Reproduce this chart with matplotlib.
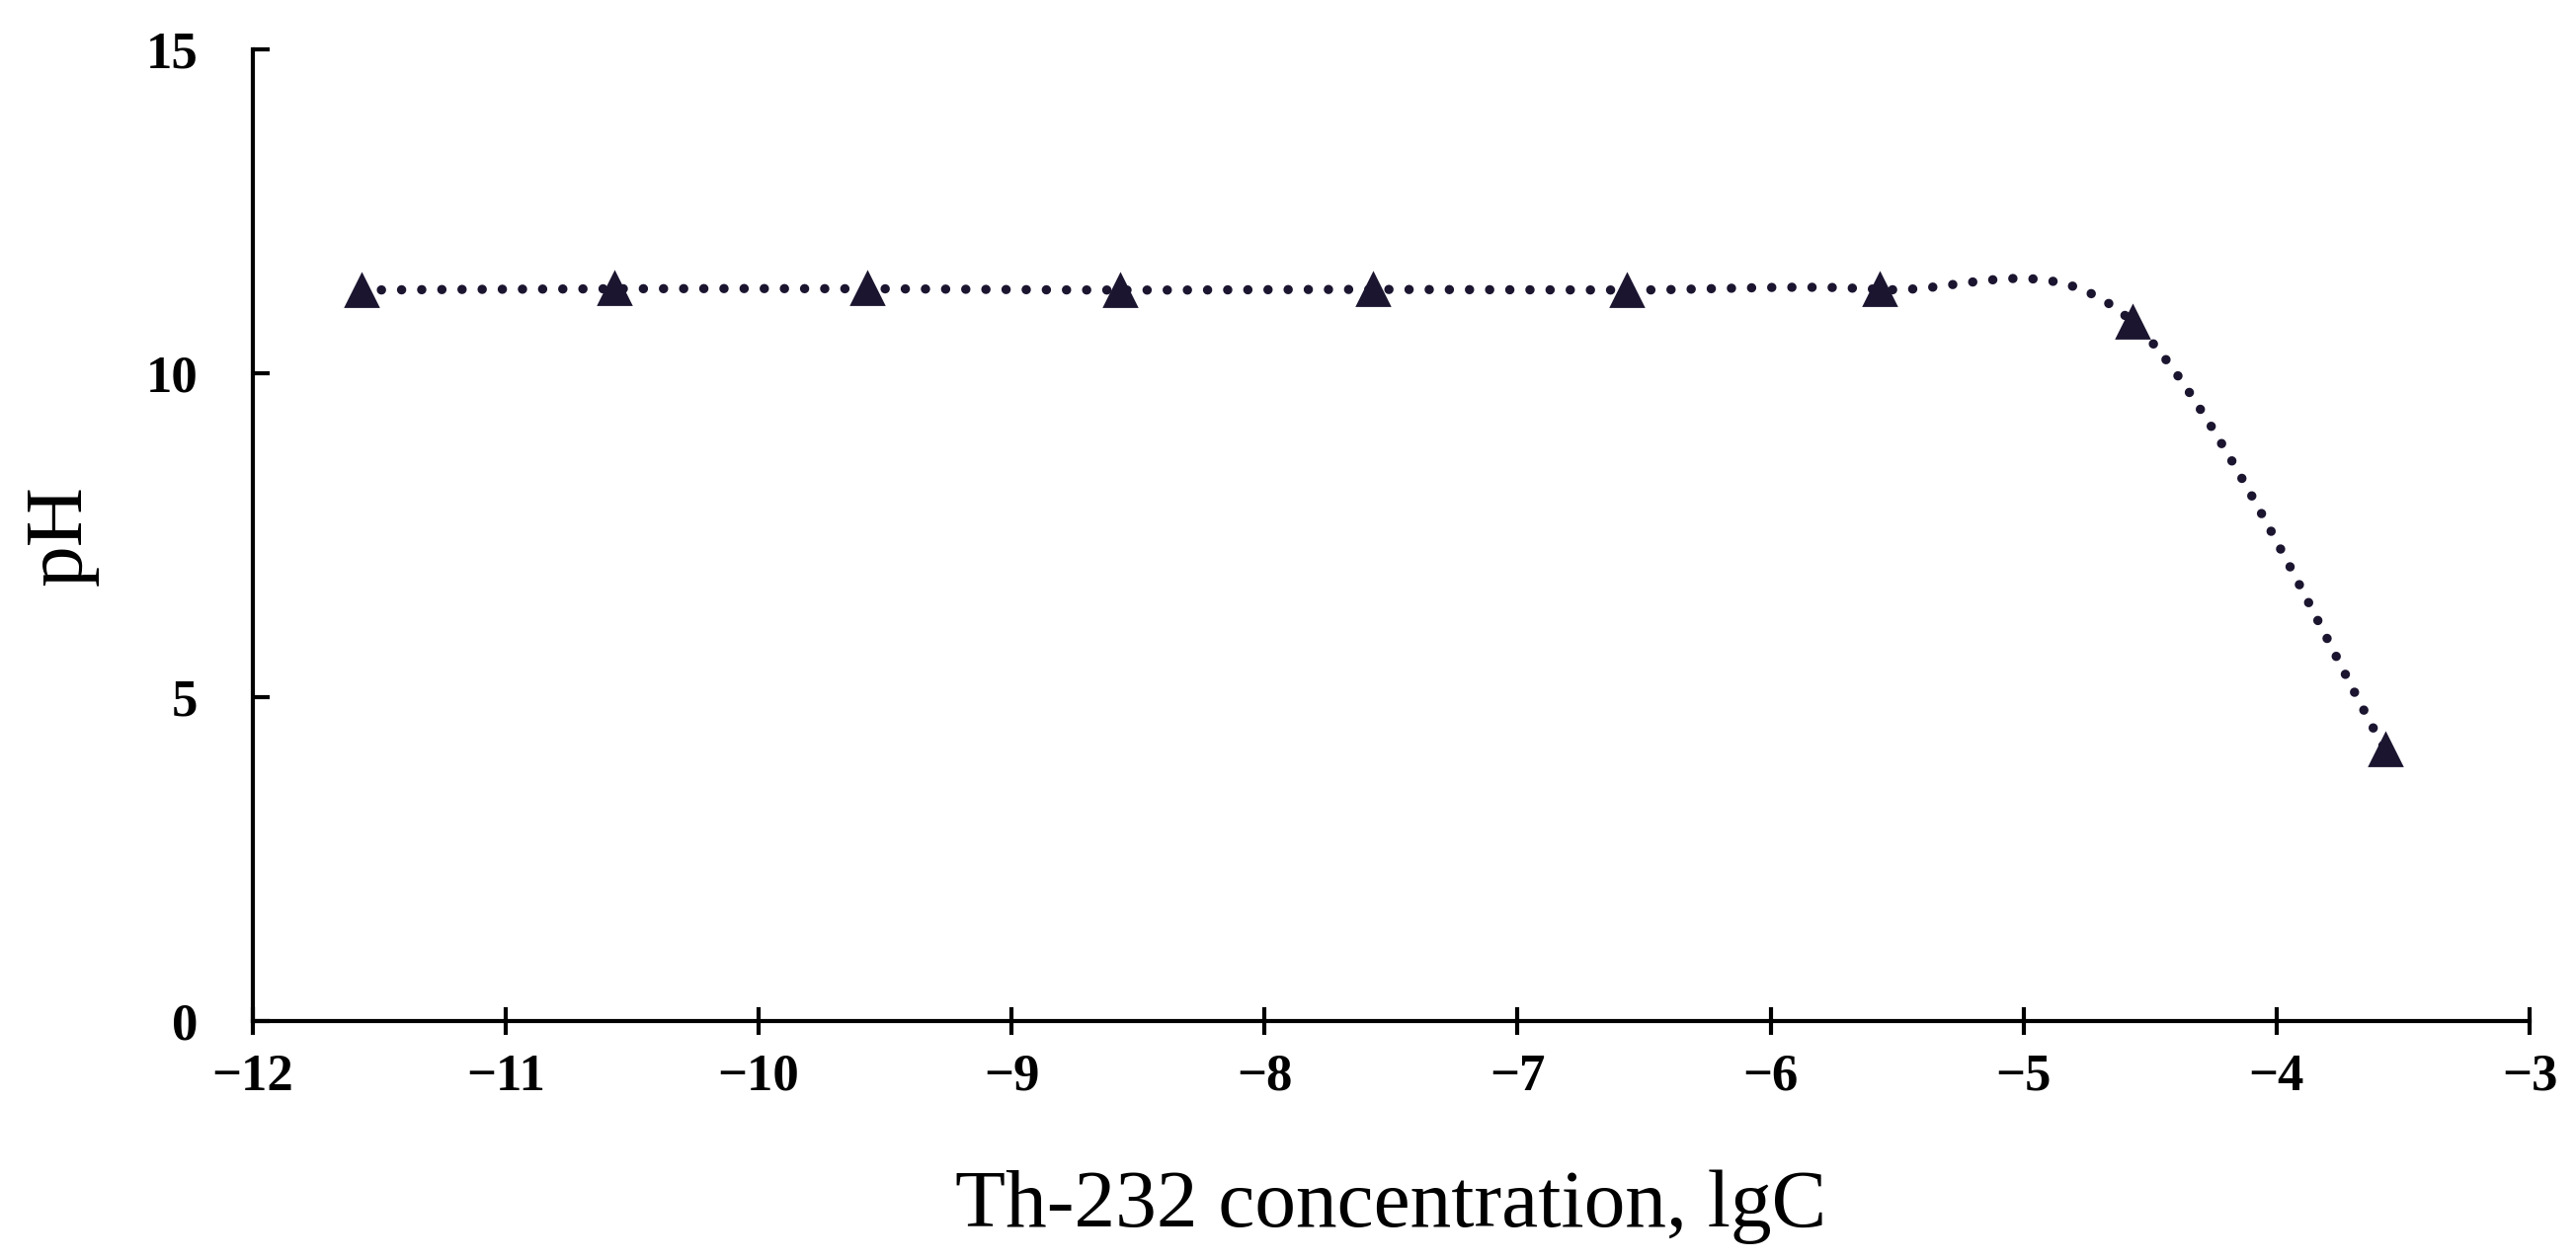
"""pH vs Th-232 concentration (lgC), Excel-style smoothed dotted line."""
import numpy as np
import matplotlib
matplotlib.use('Agg')
import matplotlib.pyplot as plt
from matplotlib.path import Path
from matplotlib.patches import PathPatch

plt.rcParams.update({
    'font.family': 'serif', 'font.serif': ['Liberation Serif', 'DejaVu Serif'],
    'axes.linewidth': 1.5,
})

# data
lgC = [-11.57, -10.57, -9.57, -8.57, -7.57, -6.57, -5.57, -4.57, -3.57]
pH = [11.28, 11.30, 11.30, 11.28, 11.29, 11.28, 11.29, 10.79, 4.18]

x_ticks = [-12, -11, -10, -9, -8, -7, -6, -5, -4, -3]
y_ticks = [0, 5, 10, 15]
x_label = 'Th-232 concentration, lgC'
y_label = 'pH'

INK = '#1c1530'


def smooth_path(xs, ys):
    # cubic Bezier through the points, tangents like Excel's "smoothed line"
    p = np.column_stack([xs, ys])
    pts = np.vstack([p[0], p, p[-1]])
    verts, codes = [p[0]], [Path.MOVETO]
    for i in range(1, len(pts) - 2):
        c1 = pts[i] + (pts[i + 1] - pts[i - 1]) / 6
        c2 = pts[i + 1] - (pts[i + 2] - pts[i]) / 6
        verts += [c1, c2, pts[i + 1]]
        codes += [Path.CURVE4] * 3
    return Path(verts, codes)


fig = plt.figure(figsize=(13.04, 6.38), dpi=200)
ax = fig.add_axes([0.098, 0.190, 0.884, 0.771])

line = PathPatch(smooth_path(lgC, pH), fill=False, edgecolor=INK, linewidth=3.4,
                 linestyle=(0, (0.01, 2.15)), capstyle='round', zorder=2)
ax.add_patch(line)
ax.plot(lgC, pH, linestyle='none', marker='^', markersize=11.5, color=INK, zorder=3)

ax.set_xlim(-12, -3)
ax.set_ylim(0, 15)
ax.set_xticks(x_ticks)
ax.set_yticks(y_ticks)
ax.set_xticklabels([f'\u2212{abs(t)}' for t in x_ticks])
ax.spines['top'].set_visible(False)
ax.spines['right'].set_visible(False)

ax.tick_params(axis='x', direction='inout', length=10, width=1.5, pad=7)
ax.tick_params(axis='y', direction='in', length=6, width=1.5, pad=20)
for lab in ax.get_xticklabels() + ax.get_yticklabels():
    lab.set_fontsize(19)
    lab.set_fontweight('bold')

ax.set_xlabel(x_label, fontsize=30, labelpad=25)
ax.set_ylabel(y_label, fontsize=30, labelpad=17)

fig.savefig('out.png', dpi=200, facecolor='white')
plt.close()
